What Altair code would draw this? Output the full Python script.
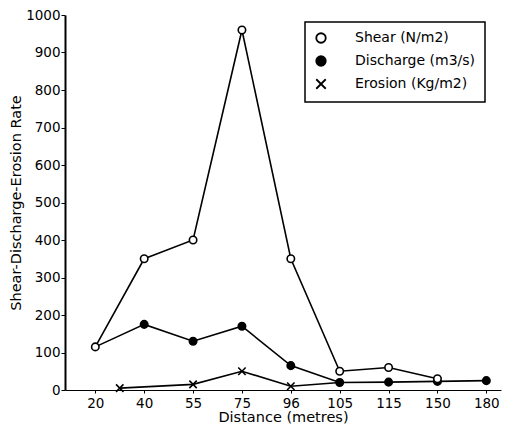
import altair as alt
import pandas as pd

labels = ["20", "40", "55", "75", "96", "105", "115", "150", "180"]
y_ticks = [0, 100, 200, 300, 400, 500, 600, 700, 800, 900, 1000]

series_names = ["Shear (N/m2)", "Discharge (m3/s)", "Erosion (Kg/m2)"]

shear_pos = [0, 1, 2, 3, 4, 5, 6, 7]
shear = [115, 350, 400, 960, 350, 50, 60, 30]

discharge_pos = [0, 1, 2, 3, 4, 5, 6, 7, 8]
discharge = [115, 175, 130, 170, 65, 20, 21, 23, 25]

erosion_pos = [0.5, 2, 3, 4, 5]
erosion = [5, 15, 50, 10, 20]
erosion_marked = [True, True, True, True, False]

rows = []
for p, v, m in zip(erosion_pos, erosion, erosion_marked):
    rows.append({"pos": p, "value": v, "series": series_names[2], "mark": m})
for p, v in zip(discharge_pos, discharge):
    rows.append({"pos": p, "value": v, "series": series_names[1], "mark": p != 0})
for p, v in zip(shear_pos, shear):
    rows.append({"pos": p, "value": v, "series": series_names[0], "mark": True})
df = pd.DataFrame(rows)

label_expr = "[" + ",".join("'%s'" % l for l in labels) + "][datum.value]"

x_enc = alt.X(
    "pos:Q",
    scale=alt.Scale(domain=[-0.62, 8.3], nice=False, zero=False),
    axis=alt.Axis(
        values=list(range(len(labels))),
        labelExpr=label_expr,
        title="Distance  (metres)",
        grid=False,
        tickSize=3,
        labelPadding=3,
        titlePadding=1,
    ),
)
y_enc = alt.Y(
    "value:Q",
    scale=alt.Scale(domain=[0, 1000], nice=False),
    axis=alt.Axis(
        values=y_ticks,
        format="d",
        title="Shear-Discharge-Erosion  Rate",
        grid=False,
        tickSize=4,
        labelPadding=1,
        titlePadding=2,
        domainWidth=2,
    ),
)

base = alt.Chart(df)

lines = base.mark_line(color="black", strokeWidth=1.6).encode(
    x=x_enc, y=y_enc, detail="series:N", order="pos:Q"
)

xshape = "M-1,-1L1,1M1,-1L-1,1"
points = base.transform_filter("datum.mark").mark_point(
    strokeWidth=1.6, size=55, opacity=1, filled=False
).encode(
    x=x_enc,
    y=y_enc,
    shape=alt.Shape(
        "series:N",
        scale=alt.Scale(domain=series_names, range=["circle", "circle", xshape]),
        legend=alt.Legend(title=None),
    ),
    fill=alt.Fill(
        "series:N",
        scale=alt.Scale(domain=series_names, range=["white", "black", "black"]),
        legend=alt.Legend(title=None),
    ),
    stroke=alt.Stroke(
        "series:N",
        scale=alt.Scale(domain=series_names, range=["black", "black", "black"]),
        legend=alt.Legend(title=None),
    ),
)

chart = (
    alt.layer(lines, points)
    .properties(width=436, height=375, padding={"left": 0, "top": 0, "right": 5, "bottom": 2})
    .configure_view(stroke=None)
    .configure_axis(
        domainColor="black",
        tickColor="black",
        labelColor="black",
        titleColor="black",
        labelFont="DejaVu Sans",
        titleFont="DejaVu Sans",
        labelFontSize=13.5,
        titleFontSize=14.5,
        titleFontWeight="normal",
    )
    .configure_legend(
        orient="none",
        legendX=240,
        legendY=7,
        strokeColor="black",
        strokeWidth=1.5,
        fillColor="white",
        padding=9,
        rowPadding=5,
        labelFont="DejaVu Sans",
        labelFontSize=14,
        labelColor="black",
        symbolStrokeColor="black",
        symbolStrokeWidth=1.8,
        symbolSize=90,
        labelOffset=27,
    )
)

chart.save("out.html", embed_options={"renderer": "svg", "actions": False})
